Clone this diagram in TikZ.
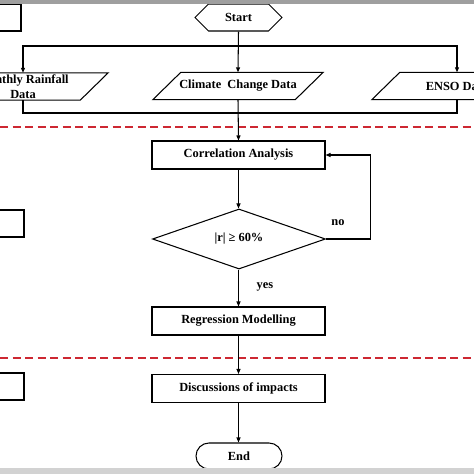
\documentclass[tikz,border=0pt]{standalone}
\usepackage{fontspec}
\setmainfont{Liberation Serif}
\usetikzlibrary{arrows.meta,shapes.geometric,shapes.symbols,shapes.misc}
\begin{document}
\begin{tikzpicture}[x=1pt,y=-1pt,
  every node/.style={font=\fontsize{12.4}{14.8}\selectfont\bfseries},
  ln/.style={line width=1.05pt,black},
  arr/.style={ln,-{Triangle[length=5pt,width=4pt]}},
  procbox/.style={draw,line width=1.05pt,minimum width=173pt,minimum height=28pt,inner sep=0pt},
  databox/.style={minimum width=142pt,minimum height=27pt,inner sep=0pt,align=center},
  sidebox/.style={draw,line width=1.05pt,minimum width=70pt,minimum height=27pt,inner sep=0pt},
  reddash/.style={line width=1.1pt,draw={rgb,255:red,205;green,40;blue,50},dash pattern=on 8pt off 4.5pt},
  lbl/.style={inner sep=0pt}]
\useasboundingbox (0,0) rectangle (474,474);
\begin{scope}
\clip (0,0) rectangle (474,474);
% side boxes (cut by the left edge)
\node[sidebox] (lb1) at (-14,17.5) {};
\node[sidebox] (lb2) at (-11,223.5) {};
\node[sidebox] (lb3) at (-11,386.5) {};
% start
\node[draw,ln,signal,signal to=west and east,signal pointer angle=90,
      minimum width=87pt,minimum height=27pt,inner sep=0pt] (start) at (238.5,17.5) {Start};
% data parallelograms
\node[databox] (mr) at (23,86.5) {Monthly Rainfall\\Data};
\node[databox] (cc) at (238,86) {Climate\ \ Change Data};
\node[databox] (enso) at (457,86) {ENSO Data};
\foreach \p in {mr,cc,enso}{
  \draw[ln] ([xshift=-14pt]\p.south west) -- ([xshift=14pt]\p.north west)
    -- ([xshift=14pt]\p.north east) -- ([xshift=-14pt]\p.south east) -- cycle;
}
\coordinate (split) at (238,46);
\coordinate (merge) at (238,113);
\draw[arr] (start.south) -- (cc.north);
\draw[arr] (split) -| (mr.north);
\draw[arr] (split) -| (enso.north);
\draw[ln] (mr.south) |- (merge);
\draw[ln] (enso.south) |- (merge);
% separators
\draw[reddash] (0,127) -- (474,127);
\draw[reddash] (0,358) -- (474,358);
% process
\node[procbox] (corr) at (238.5,155) {Correlation Analysis};
\node[draw,ln,diamond,minimum width=173pt,minimum height=56pt,inner sep=0pt] (dec) at (239,239) {|r| ≥ 60\%};
\node[procbox] (reg) at (238.5,321) {Regression Modelling};
\node[procbox] (disc) at (238.5,388.5) {Discussions of impacts};
\node[draw,ln,rounded rectangle,minimum width=86pt,minimum height=26pt,inner sep=0pt] (fin) at (239,456) {End};
\draw[arr] (cc.south) -- (corr.north);
\draw[arr] (corr.south) -- (corr.south |- dec.north);
\draw[arr] (dec.south -| corr.south) -- (reg.north -| corr.south);
\draw[arr] (reg.south -| corr.south) -- (disc.north -| corr.south);
\draw[arr] (disc.south -| corr.south) -- (fin.north -| corr.south);
\draw[arr] (dec.east) -- ++(44,0) |- (corr.east);
\node[lbl] (no) at (338,223) {no};
\node[lbl] (yes) at (265,287) {yes};
% gray bands
\fill[gray!75] (0,0) rectangle (474,4);
\fill[gray!35] (0,468) rectangle (474,474);
\end{scope}
\end{tikzpicture}
\end{document}
